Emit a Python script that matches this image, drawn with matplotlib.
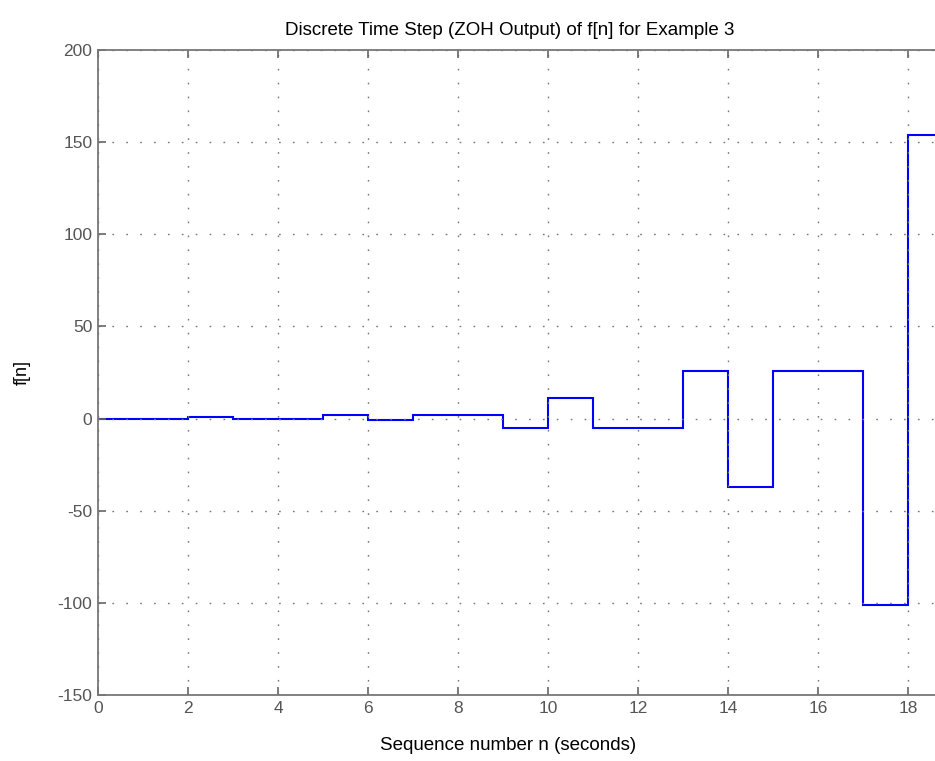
import numpy as np
import matplotlib
matplotlib.use("Agg")
import matplotlib.pyplot as plt

# sequence values f[n], n = 0..18 (held by zero-order hold)
n = np.arange(19)
f = [0, 0, 1, 0, 0, 2, -1, 2, 2, -5, 11, -5, -5, 26, -37, 26, 26, -101, 154]

title = "Discrete Time Step (ZOH Output) of f[n] for Example 3"
xlabel = "Sequence number n (seconds)"
ylabel = "f[n]"

plt.rcParams['font.family'] = ['Liberation Sans', 'DejaVu Sans']
plt.rcParams['axes.unicode_minus'] = False

W, H = 935, 761
fig = plt.figure(figsize=(W / 100, H / 100), dpi=100)
ax = fig.add_axes([98 / W, 66 / H, (W - 98) / W, 645 / H])

# stairs: last sample is held one step past the end
edges = np.append(n, n[-1] + 1)
ax.stairs(f, edges, color='#0000ff', linewidth=1.5, baseline=None)

ax.set_xlim(0, 18.6)
ax.set_ylim(-150, 200)
ax.set_xticks(np.arange(0, 19, 2))
ax.set_yticks(np.arange(-150, 201, 50))

ax.grid(True, color='#777777', linestyle=(0, (1.2, 8.8)), linewidth=1.0)
ax.tick_params(direction='in', length=6, width=1.2, top=True, right=False,
               colors='#666666', labelcolor='#555555', labelsize=12.5, pad=4)
for s in ['left', 'bottom', 'top']:
    ax.spines[s].set_color('#777777')
    ax.spines[s].set_linewidth(1.3)
ax.spines['right'].set_visible(False)

ax.set_title(title, x=(510 - 98) / (W - 98), fontsize=13.5, pad=11)
ax.set_xlabel(xlabel, fontsize=13.5)
ax.xaxis.set_label_coords((508 - 98) / (W - 98), -0.065)
ax.set_ylabel(ylabel, fontsize=13)
ax.yaxis.set_label_coords(-0.08, 0.5)

fig.savefig("out.png", dpi=100)
